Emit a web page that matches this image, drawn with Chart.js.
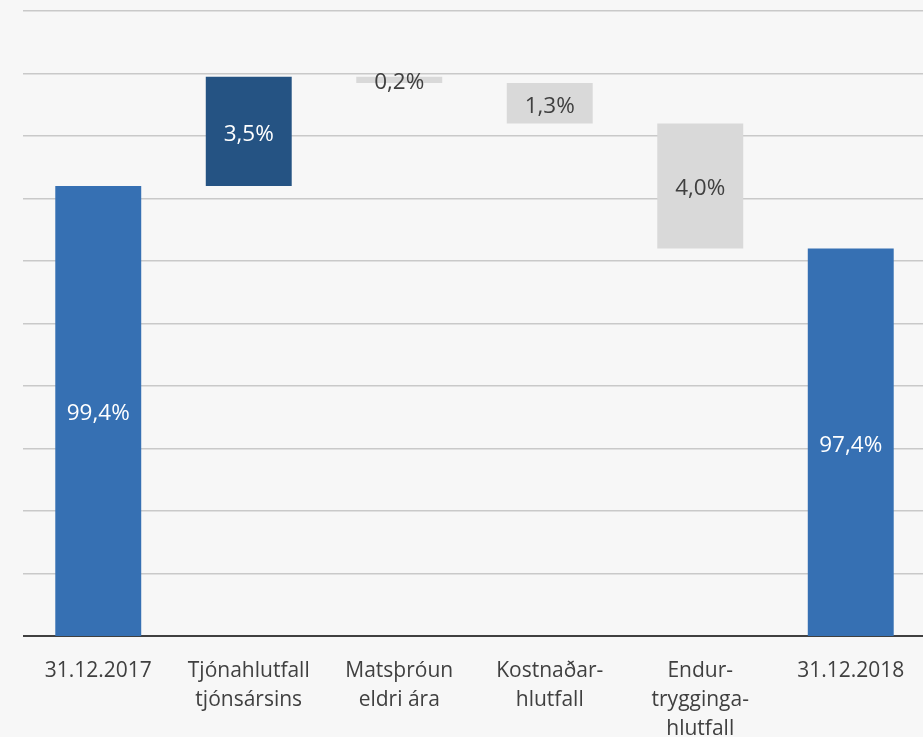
<!DOCTYPE html>
<html>
<head>
<meta charset="utf-8">
<script src="https://cdn.jsdelivr.net/npm/chart.js@4/dist/chart.umd.min.js"></script>
<style>
  html, body { margin: 0; padding: 0; background: #f7f7f7; overflow: hidden; }
  #wrap { width: 923px; height: 737px; position: relative; overflow: hidden; }
  #c { display: block; }
</style>
</head>
<body>
<div id="wrap"><canvas id="c" width="926" height="737"></canvas></div>
<script>
// ---- data ----
const categories = [
  "31.12.2017",
  ["Tjónahlutfall", "tjónsársins"],
  ["Matsþróun", "eldri ára"],
  ["Kostnaðar-", "hlutfall"],
  ["Endur-", "trygginga-", "hlutfall"],
  "31.12.2018"
];
const changes = [99.4, 3.5, -0.2, -1.3, -4.0, 97.4];
const isTotal = [true, false, false, false, false, true];
const yMin = 85;
const yMax = 105;
const yStep = 2;

// ---- build floating ranges ----
const ranges = [];
let running = 0;
changes.forEach((v, i) => {
  if (isTotal[i]) { ranges.push([yMin, v]); running = v; }
  else { ranges.push([running, running + v]); running += v; }
});
const colors = changes.map((v, i) => isTotal[i] ? '#3670b3' : (v > 0 ? '#255383' : '#d9d9d9'));
const labelColors = changes.map((v, i) => (isTotal[i] || v > 0) ? '#ffffff' : '#404040');
const labelTexts = changes.map(v => Math.abs(v).toFixed(1).replace('.', ',') + '%');

const FONT = "'Open Sans', sans-serif";

const bgPlugin = {
  id: 'bg',
  beforeDraw(chart) {
    const c = chart.ctx;
    c.save();
    c.fillStyle = '#f7f7f7';
    c.fillRect(0, 0, chart.width, chart.height);
    c.restore();
  }
};

const labelPlugin = {
  id: 'labels',
  afterDatasetsDraw(chart) {
    const c = chart.ctx;
    const meta = chart.getDatasetMeta(0);
    c.save();
    c.font = "22.5px " + FONT;
    c.textAlign = 'center';
    c.textBaseline = 'middle';
    meta.data.forEach((bar, i) => {
      const p = bar.getProps(['x', 'y', 'base'], true);
      c.fillStyle = labelColors[i];
      c.fillText(labelTexts[i], p.x, (p.y + p.base) / 2 + 3);
    });
    c.restore();
  }
};

new Chart(document.getElementById('c'), {
  type: 'bar',
  data: {
    labels: categories,
    datasets: [{
      data: ranges,
      backgroundColor: colors,
      borderWidth: 0,
      categoryPercentage: 1,
      barPercentage: 0.571
    }]
  },
  options: {
    responsive: false,
    animation: false,
    layout: { padding: { left: 0, right: 0, top: 11, bottom: 0 } },
    plugins: { legend: { display: false }, tooltip: { enabled: false } },
    scales: {
      x: {
        grid: { display: false, drawTicks: false },
        border: { display: false },
        ticks: {
          color: '#404040',
          font: { family: FONT, size: 21, lineHeight: 1.37 },
          padding: 21,
          maxRotation: 0,
          autoSkip: false
        },
        afterFit(scale) { scale.height = 101; }
      },
      y: {
        min: yMin,
        max: yMax,
        ticks: { display: false, stepSize: yStep },
        grid: {
          drawTicks: false,
          color: ctx => ctx.tick && ctx.tick.value === yMin ? '#404040' : '#c9c9c9',
          lineWidth: ctx => ctx.tick && ctx.tick.value === yMin ? 2 : 1.5
        },
        border: { display: false },
        afterFit(scale) { scale.width = 23; }
      }
    }
  },
  plugins: [bgPlugin, labelPlugin]
});
</script>
</body>
</html>
